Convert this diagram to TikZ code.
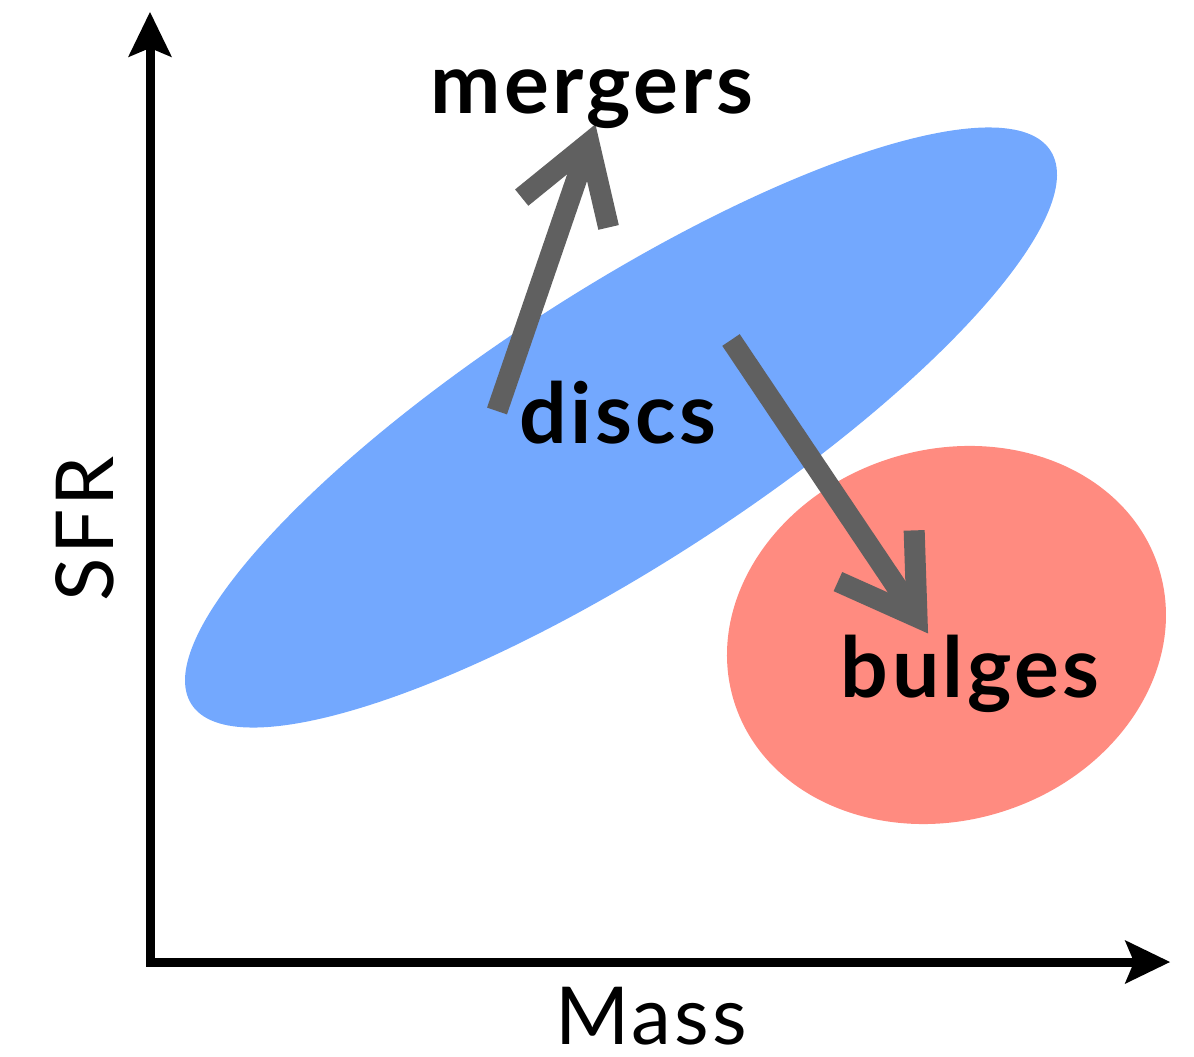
\documentclass[tikz,border=0pt]{standalone}
\usepackage{fontspec}
\setmainfont{Lato}
\newfontfamily\spacedfont[LetterSpace=4]{Lato}
\usetikzlibrary{arrows.meta,calc}
\definecolor{discblue}{HTML}{73A8FE}
\definecolor{bulgered}{HTML}{FF8B80}
\definecolor{trackgray}{HTML}{606060}

\begin{document}
\begin{tikzpicture}[
  x=0.75pt, y=-0.75pt,
  axisline/.style={line width=6.75pt, draw=black, line join=miter,
                   {Stealth[length=34pt, width=33pt, inset=7pt, line width=0pt]}-{Stealth[length=34pt, width=33pt, inset=7pt, line width=0pt]}},
  axistext/.style={font=\spacedfont\fontsize{60}{64}\selectfont, inner sep=0pt, anchor=base},
  galtext/.style={font=\spacedfont\fontsize{63}{68}\selectfont\bfseries, inner sep=0pt, anchor=base},
  track/.style={draw=trackgray, line width=15.75pt, line join=miter, line cap=butt}
]
\useasboundingbox (0,0) rectangle (1194,1056);

% populations
\coordinate (disccentre) at (621,427.5);
\coordinate (bulgecentre) at (946.5,635);
\fill[discblue, rotate around={32.8:(disccentre)}] (disccentre) ellipse [x radius=511, y radius=137.5];
\fill[bulgered, rotate around={17.6:(bulgecentre)}] (bulgecentre) ellipse [x radius=222.6, y radius=185.3];

% axes
\coordinate (origin) at (150,962);
\coordinate (ytip) at (150,12);
\coordinate (xtip) at (1170,962);
\draw[axisline] (ytip) -- (origin) -- (xtip);
\node[axistext] (mass) at (651,1044) {Mass};
\node[axistext, rotate=90] (sfr) at (113,529) {SFR};

% evolution tracks
\coordinate (mstart) at (497,411);
\coordinate (mend) at (589,143);
\coordinate (bstart) at (731,340);
\coordinate (bend) at (917,617);
\draw[track] (mstart) -- (mend);
\draw[track] ($(mend)!65pt!32:(mstart)$) -- (mend) -- ($(mend)!65pt!-32:(mstart)$);
\draw[track] (bstart) -- (bend);
\draw[track] ($(bend)!65pt!32:(bstart)$) -- (bend) -- ($(bend)!65pt!-32:(bstart)$);

% labels
\node[galtext] (mergers) at (592,113) {mergers};
\node[galtext] (discs) at (618,443) {discs};
\node[galtext] (bulges) at (970,697) {bulges};

\end{tikzpicture}
\end{document}
